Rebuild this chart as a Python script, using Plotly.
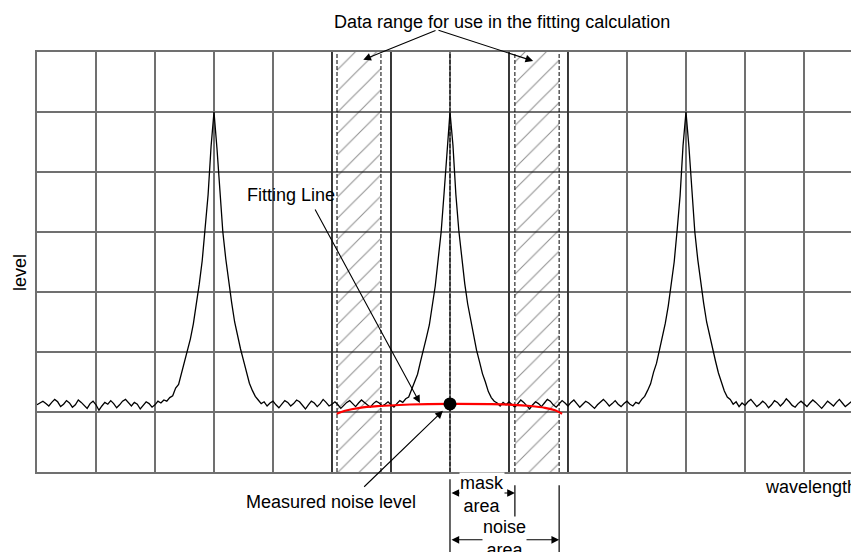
import numpy as np
import plotly.graph_objects as go

# ---- data (grid divisions: x = wavelength div, y = level div) ----
x_step = 0.05

level = [
    # 0.00 - 0.95
    1.12, 1.15, 1.18, 1.14, 1.10, 1.16, 1.21, 1.17, 1.09, 1.13, 1.19, 1.15, 1.08, 1.12, 1.20, 1.16, 1.11, 1.06, 1.14, 1.18,
    # 1.00 - 1.95
    1.12, 1.03, 1.10, 1.16, 1.13, 1.19, 1.14, 1.07, 1.12, 1.18, 1.21, 1.15, 1.10, 1.16, 1.13, 1.05, 1.11, 1.17, 1.14, 1.08,
    # 2.00 - 2.95 (first peak, rising)
    1.12, 1.18, 1.15, 1.20, 1.18, 1.24, 1.27, 1.40, 1.46, 1.65, 1.82, 2.04, 2.22, 2.47, 2.78, 3.13, 3.52, 4.02, 4.62, 5.42,
    # 3.00 - 3.95
    6.00, 5.40, 4.60, 4.00, 3.55, 3.16, 2.82, 2.50, 2.26, 2.05, 1.86, 1.66, 1.48, 1.36, 1.26, 1.20, 1.14, 1.17, 1.10, 1.15,
    # 4.00 - 4.95
    1.18, 1.12, 1.07, 1.13, 1.19, 1.16, 1.10, 1.14, 1.20, 1.17, 1.11, 1.05, 1.12, 1.18, 1.15, 1.09, 1.14, 1.21, 1.16, 1.10,
    # 5.00 - 5.95
    1.13, 1.17, 1.12, 1.06, 1.11, 1.16, 1.19, 1.14, 1.09, 1.15, 1.20, 1.16, 1.12, 1.08, 1.14, 1.18, 1.15, 1.10, 1.13, 1.17,
    # 6.00 - 6.95 (second peak, rising)
    1.12, 1.08, 1.14, 1.19, 1.16, 1.22, 1.25, 1.38, 1.48, 1.63, 1.84, 2.02, 2.24, 2.45, 2.80, 3.10, 3.55, 4.00, 4.65, 5.40,
    # 7.00 - 7.95
    6.00, 5.45, 4.62, 4.02, 3.52, 3.14, 2.80, 2.52, 2.25, 2.03, 1.84, 1.64, 1.50, 1.34, 1.24, 1.18, 1.15, 1.10, 1.16, 1.12,
    # 8.00 - 8.95
    1.17, 1.13, 1.08, 1.14, 1.20, 1.16, 1.11, 1.05, 1.12, 1.17, 1.14, 1.09, 1.15, 1.21, 1.18, 1.12, 1.08, 1.13, 1.19, 1.15,
    # 9.00 - 9.95
    1.10, 1.16, 1.20, 1.14, 1.08, 1.13, 1.18, 1.15, 1.11, 1.06, 1.12, 1.17, 1.21, 1.16, 1.10, 1.14, 1.19, 1.13, 1.09, 1.14,
    # 10.00 - 10.95 (third peak, rising)
    1.18, 1.13, 1.10, 1.16, 1.14, 1.21, 1.26, 1.36, 1.47, 1.66, 1.81, 2.03, 2.23, 2.48, 2.77, 3.14, 3.50, 4.03, 4.60, 5.44,
    # 11.00 - 11.95
    6.00, 5.42, 4.63, 4.00, 3.54, 3.15, 2.81, 2.50, 2.27, 2.04, 1.85, 1.65, 1.49, 1.35, 1.25, 1.21, 1.13, 1.17, 1.09, 1.15,
    # 12.00 - 12.95
    1.11, 1.17, 1.21, 1.15, 1.09, 1.13, 1.18, 1.14, 1.07, 1.12, 1.19, 1.16, 1.10, 1.15, 1.22, 1.17, 1.11, 1.08, 1.14, 1.18,
    # 13.00 - 13.80
    1.13, 1.09, 1.15, 1.20, 1.16, 1.11, 1.06, 1.12, 1.18, 1.14, 1.10, 1.16, 1.21, 1.15, 1.09, 1.13, 1.17,
]
wl = np.round(np.arange(len(level)) * x_step, 2)

# fitted noise curve across the fitting ranges
fit_x = [5.08, 5.22, 5.47, 5.81, 6.32, 7.0, 7.68, 8.07, 8.36, 8.61, 8.78, 8.9]
fit_y = [0.97, 1.02, 1.07, 1.10, 1.125, 1.135, 1.13, 1.12, 1.10, 1.07, 1.03, 0.97]

noise_x = [7.0]
noise_y = [1.135]

fit_ranges = [(5.085, 5.83), (8.1, 8.85)]
solid_marks = [5.0, 6.0, 8.0, 9.0]
dashed_marks = [5.085, 5.83, 7.0, 8.1, 8.85]
center_wl = 7.0
mask_edge = 8.1
noise_edge = 8.85

X_MAX = 13.797
Y_MAX = 7
FONT = "Arial, Liberation Sans, sans-serif"


def xp(u):
    # division -> paper x
    return u / X_MAX


def yp(u):
    # division -> paper y
    return u / Y_MAX


fig = go.Figure()

# hatched fitting ranges
for lo, hi in fit_ranges:
    fig.add_trace(go.Scatter(
        x=[lo, hi, hi, lo, lo], y=[0, 0, Y_MAX, Y_MAX, 0],
        mode="lines", line=dict(width=0), fill="toself",
        fillcolor="rgba(0,0,0,0)",
        fillpattern=dict(shape="/", size=15, solidity=0.07,
                         fgcolor="#222222", bgcolor="rgba(255,255,255,0)"),
        hoverinfo="skip", showlegend=False,
    ))

for xv in solid_marks:
    fig.add_trace(go.Scatter(x=[xv, xv], y=[0, Y_MAX], mode="lines",
                             line=dict(color="black", width=1), showlegend=False, hoverinfo="skip"))
for xv in dashed_marks:
    fig.add_trace(go.Scatter(x=[xv, xv], y=[0, Y_MAX], mode="lines",
                             line=dict(color="black", width=1, dash="4px,2px"),
                             showlegend=False, hoverinfo="skip"))

# spectrum
fig.add_trace(go.Scatter(x=wl, y=level, mode="lines",
                         line=dict(color="black", width=1.3), showlegend=False))
# fitting line
fig.add_trace(go.Scatter(x=fit_x, y=fit_y, mode="lines", line_shape="spline",
                         line=dict(color="#ff0000", width=2.2), showlegend=False))
# measured noise level
fig.add_trace(go.Scatter(x=noise_x, y=noise_y, mode="markers",
                         marker=dict(color="black", size=13), showlegend=False))

# dimension lines below the plot (clipped only in x)
for xv, u0, u1 in [(center_wl, -0.12, -1.4), (mask_edge, -0.22, -0.77), (noise_edge, -0.22, -1.4)]:
    fig.add_shape(type="line", xref="x", yref="paper", x0=xv, x1=xv,
                  y0=yp(u0), y1=yp(u1), line=dict(color="black", width=1.2))

arrow = dict(showarrow=True, arrowhead=2, arrowsize=1.4, arrowwidth=1.1,
             arrowcolor="black", text="")
annotations = [
    # data range arrows
    dict(x=5.53, y=6.87, ax=6.78, ay=7.37, axref="x", ayref="y", **arrow),
    dict(x=8.41, y=6.85, ax=6.78, ay=7.37, axref="x", ayref="y", **arrow),
    # fitting line arrow
    dict(x=6.49, y=1.15, ax=4.70, ay=4.40, axref="x", ayref="y", **arrow),
    # measured noise arrow
    dict(x=6.88, y=1.02, ax=5.52, ay=-0.27, axref="x", ayref="y", **arrow),
    # mask / noise area dimension arrows
    dict(x=mask_edge, y=yp(-0.35), yref="paper", ax=center_wl, ay=0,
         axref="x", ayref="pixel", arrowside="end+start", **arrow),
    dict(x=noise_edge, y=yp(-1.13), yref="paper", ax=center_wl, ay=0,
         axref="x", ayref="pixel", arrowside="end+start", **arrow),
]

txt = dict(showarrow=False, font=dict(family=FONT, size=18, color="black"),
           xanchor="center", yanchor="middle")
box = dict(bgcolor="white", borderpad=0)
annotations += [
    dict(text="Data range for use in the fitting calculation", x=xp(5.0), y=yp(7.5),
         xref="paper", yref="paper", **{**txt, "xanchor": "left"}),
    dict(text="Fitting Line", x=3.52, y=4.62, **{**txt, "xanchor": "left"}),
    dict(text="Measured noise level", x=xp(4.98), y=yp(-0.5), xref="paper", yref="paper", **txt),
    dict(text="wavelength", x=xp(12.3), y=yp(-0.25), xref="paper", yref="paper",
         **{**txt, "xanchor": "left"}),
    dict(text="level", x=xp(-0.29), y=yp(3.33), xref="paper", yref="paper", textangle=-90, **txt),
    dict(text="mask<br>area", x=xp(7.54), y=yp(-0.38), xref="paper", yref="paper", **box, **txt),
    dict(text="noise<br>area", x=xp(7.93), y=yp(-1.1), xref="paper", yref="paper", **box, **txt),
]

for a in annotations:
    a.setdefault("xref", "x")
    a.setdefault("yref", "y")
    fig.add_annotation(**a)

grid = dict(showgrid=True, gridcolor="#707070", gridwidth=1.5, zeroline=False,
            showticklabels=False, ticks="", showline=True, linecolor="#707070", linewidth=1.5)
fig.update_xaxes(range=[0, X_MAX], dtick=1, tick0=0, mirror=True, **grid)
fig.update_yaxes(range=[0, Y_MAX], dtick=1, tick0=0, mirror=False, **grid)

fig.update_layout(
    width=851, height=552,
    margin=dict(l=37, r=0, t=52, b=80),
    plot_bgcolor="white", paper_bgcolor="white",
    font=dict(family=FONT, size=18, color="black"),
    showlegend=False,
)

# drop the default body margin so the figure sits at the window's top-left corner
fig.write_html(
    "out.html",
    config={"displayModeBar": False},
    post_script="document.body.style.margin='0';"
                "document.documentElement.style.overflow='hidden';",
)
